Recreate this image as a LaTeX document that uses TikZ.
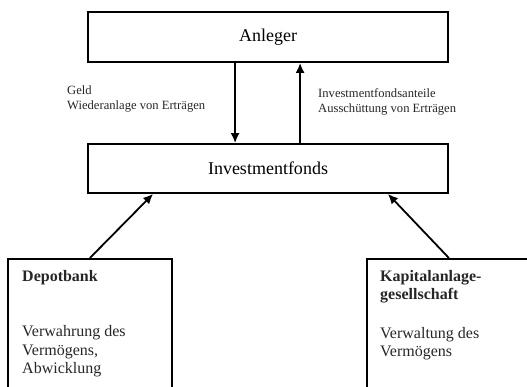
\documentclass[tikz,border=0pt]{standalone}
\usepackage{fontspec}
\setmainfont{Liberation Serif}
\usetikzlibrary{arrows.meta,calc}
\tikzset{
	box/.style={draw, line width=1.8pt, inner sep=0pt},
	flow/.style={line width=1.8pt, -{Latex[length=10pt,width=9pt]}},
	boxtext/.style={inner sep=0pt, anchor=north west, align=left, text=black!85, font=\fontsize{16}{18.5}\selectfont},
	flowtext/.style={inner sep=0pt, anchor=north west, align=left, text=black!85, font=\fontsize{12.6}{15}\selectfont}
}

\begin{document}
\begin{tikzpicture}[x=1pt, y=-1pt]
		%%%%% START %%%%%
		\useasboundingbox (0, 0) rectangle (527, 387);
		
		\node[box, minimum width=360pt, minimum height=50pt, font=\fontsize{18}{22}\selectfont] (anleger) at (268, 37) {Anleger};
		\node[box, minimum width=360pt, minimum height=49pt, font=\fontsize{18}{22}\selectfont] (fonds) at (268, 168.5) {Investmentfonds};
		
		\node[box, anchor=north west, minimum width=164pt, minimum height=170pt] (depot) at (7, 258) {};
		\node[box, anchor=north west, minimum width=164pt, minimum height=170pt] (kag) at (366, 258) {};
		
		\node[boxtext] (depottext) at (22, 270) {\textbf{Depotbank}\\[37pt]Verwahrung des\\Vermögens,\\Abwicklung};
		\node[boxtext] (kagtext) at (380, 270) {\textbf{Kapitalanlage-}\\\textbf{gesellschaft}\\[20pt]Verwaltung des\\Vermögens};
		
		\draw[flow] ($(anleger.south west)+(148, 0)$) -- ($(fonds.north west)+(148, 0)$);
		\draw[flow] ($(fonds.north west)+(213, 0)$) -- ($(anleger.south west)+(213, 0)$);
		
		\node[flowtext] (geld) at (67, 86) {Geld\\Wiederanlage von Erträgen};
		\node[flowtext] (anteile) at (318, 88) {Investmentfondsanteile\\Ausschüttung von Erträgen};
		
		\draw[flow] (depot.north) -- ($(fonds.south west)+(66, 0)$);
		\draw[flow] (kag.north) -- ($(fonds.south east)+(-61, 0)$);
		%%%%% END %%%%%
	\end{tikzpicture}
\end{document}
